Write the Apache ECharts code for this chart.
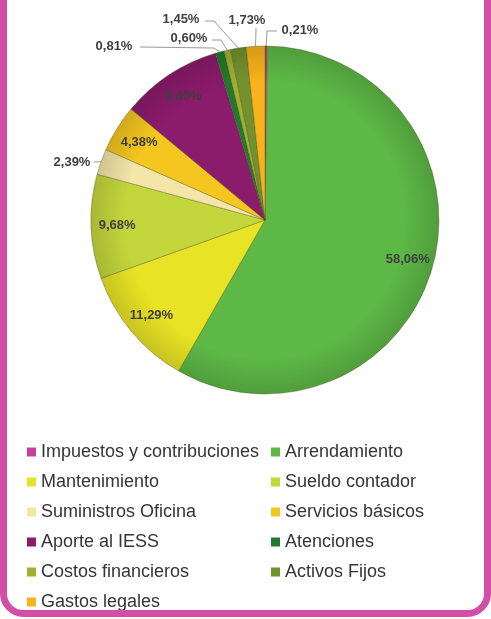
<!DOCTYPE html>
<html>
<head>
<meta charset="utf-8">
<script src="https://cdn.jsdelivr.net/npm/echarts@6/dist/echarts.min.js"></script>
<style>
html,body{margin:0;padding:0;background:#fff;}
#main{width:491px;height:619px;}
</style>
</head>
<body>
<div id="main"></div>
<script>
// categorias (orden de la hoja, sentido horario desde arriba)
var categorias = ['Impuestos y contribuciones', 'Arrendamiento', 'Mantenimiento', 'Sueldo contador',
	'Suministros Oficina', 'Servicios básicos', 'Aporte al IESS', 'Atenciones',
	'Costos financieros', 'Activos Fijos', 'Gastos legales'];
// porcentaje de cada gasto
var valores = [0.21, 58.06, 11.29, 9.68, 2.39, 4.38, 9.40, 0.81, 0.60, 1.45, 1.73];
var colores = ['#c8409a', '#5db846', '#e8e325', '#c3d63c', '#f3e6a8', '#f4c61f',
	'#8b1b6b', '#217a2d', '#a2b02e', '#74912f', '#f8b31a'];
// columnas de la leyenda
var leyendaIzq = ['Impuestos y contribuciones', 'Mantenimiento', 'Suministros Oficina',
	'Aporte al IESS', 'Costos financieros', 'Gastos legales'];
var leyendaDer = ['Arrendamiento', 'Sueldo contador', 'Servicios básicos', 'Atenciones', 'Activos Fijos'];

// etiquetas de las rebanadas pequeñas: posicion del texto y quiebre de la guia
var etiquetasFuera = {
	0: {x: 300, y: 30, linea: [[267, 31], [277, 31]]},
	10: {x: 247, y: 20, linea: [[256, 28]]},
	9: {x: 181, y: 19, linea: [[214, 21], [205, 21]]},
	8: {x: 189, y: 38, linea: [[221, 40], [212, 40]]},
	7: {x: 114, y: 46, linea: [[214, 48], [140, 47]]},
	4: {x: 72, y: 162, linea: [[94, 162]]}
};

function formato(v){
	return v.toFixed(2).replace('.', ',') + '%';
}
// oscurece un color hex
function oscuro(hex, f){
	var n = parseInt(hex.slice(1), 16);
	var r = Math.round(((n >> 16) & 255) * f), g = Math.round(((n >> 8) & 255) * f), b = Math.round((n & 255) * f);
	return 'rgb(' + r + ',' + g + ',' + b + ')';
}
// items de leyenda con el color plano
function itemsLeyenda(nombres){
	return nombres.map(function(n){
		return {name: n, itemStyle: {color: colores[categorias.indexOf(n)], borderWidth: 0}};
	});
}

var datos = [], datosAnillo = [];
for (var i = 0; i < categorias.length; i++) {
	var fuera = etiquetasFuera[i] != null;
	datos.push({
		name: categorias[i],
		value: valores[i],
		itemStyle: {
			color: {
				type: 'radial', x: 265, y: 220, r: 174, global: true,
				colorStops: [
					{offset: 0, color: colores[i]},
					{offset: 0.8, color: colores[i]},
					{offset: 1, color: oscuro(colores[i], 0.86)}
				]
			}
		},
		label: {show: fuera},
		labelLine: {show: fuera}
	});
	datosAnillo.push({
		name: categorias[i],
		value: valores[i],
		label: {show: !fuera}
	});
}

var etiqueta = {
	fontFamily: 'Liberation Sans',
	fontSize: 13,
	fontWeight: 'bold',
	color: '#3f3f3f'
};
var textoLeyenda = {fontFamily: 'Liberation Sans', fontSize: 18, lineHeight: 20, color: '#353535'};

var myChart = echarts.init(document.getElementById('main'));
var option = {
	backgroundColor: '#ffffff',
	animation: false,
	legend: [
		{
			orient: 'vertical',
			left: 27,
			top: 442,
			padding: 0,
			icon: 'rect',
			itemWidth: 9,
			itemHeight: 9,
			itemGap: 10,
			selectedMode: false,
			data: itemsLeyenda(leyendaIzq),
			textStyle: textoLeyenda
		},
		{
			orient: 'vertical',
			left: 271,
			top: 442,
			padding: 0,
			icon: 'rect',
			itemWidth: 9,
			itemHeight: 9,
			itemGap: 10,
			selectedMode: false,
			data: itemsLeyenda(leyendaDer),
			textStyle: textoLeyenda
		}
	],
	color: colores,
	graphic: [
		{
			// marco rosado
			type: 'rect',
			z: 100,
			shape: {x: 3.5, y: -30, width: 484, height: 643.5, r: 20},
			style: {fill: 'none', stroke: '#d24fa5', lineWidth: 7}
		}
	],
	series: [
		{
			type: 'pie',
			center: [265, 220],
			radius: [0, 174],
			startAngle: 90,
			clockwise: true,
			avoidLabelOverlap: false,
			data: datos,
			itemStyle: {borderColor: 'rgba(70,70,20,0.35)', borderWidth: 1},
			label: Object.assign({position: 'outside', formatter: function(p){ return formato(p.value); }}, etiqueta),
			labelLine: {lineStyle: {color: '#9a9a9a', width: 1}, length: 10, length2: 10},
			labelLayout: function(params){
				var e = etiquetasFuera[params.dataIndex];
				if (!e || !params.labelLinePoints) return {};
				var puntos = [params.labelLinePoints[0]].concat(e.linea);
				return {x: e.x, y: e.y, align: 'center', verticalAlign: 'middle', labelLinePoints: puntos};
			}
		},
		{
			// anillo transparente solo para colocar las etiquetas interiores
			type: 'pie',
			silent: true,
			center: [265, 220],
			radius: [116, 174],
			startAngle: 90,
			clockwise: true,
			data: datosAnillo,
			itemStyle: {color: 'rgba(0,0,0,0)'},
			label: Object.assign({position: 'inside', formatter: function(p){ return formato(p.value); }}, etiqueta),
			labelLine: {show: false}
		}
	]
};
myChart.setOption(option);
</script>
</body>
</html>
